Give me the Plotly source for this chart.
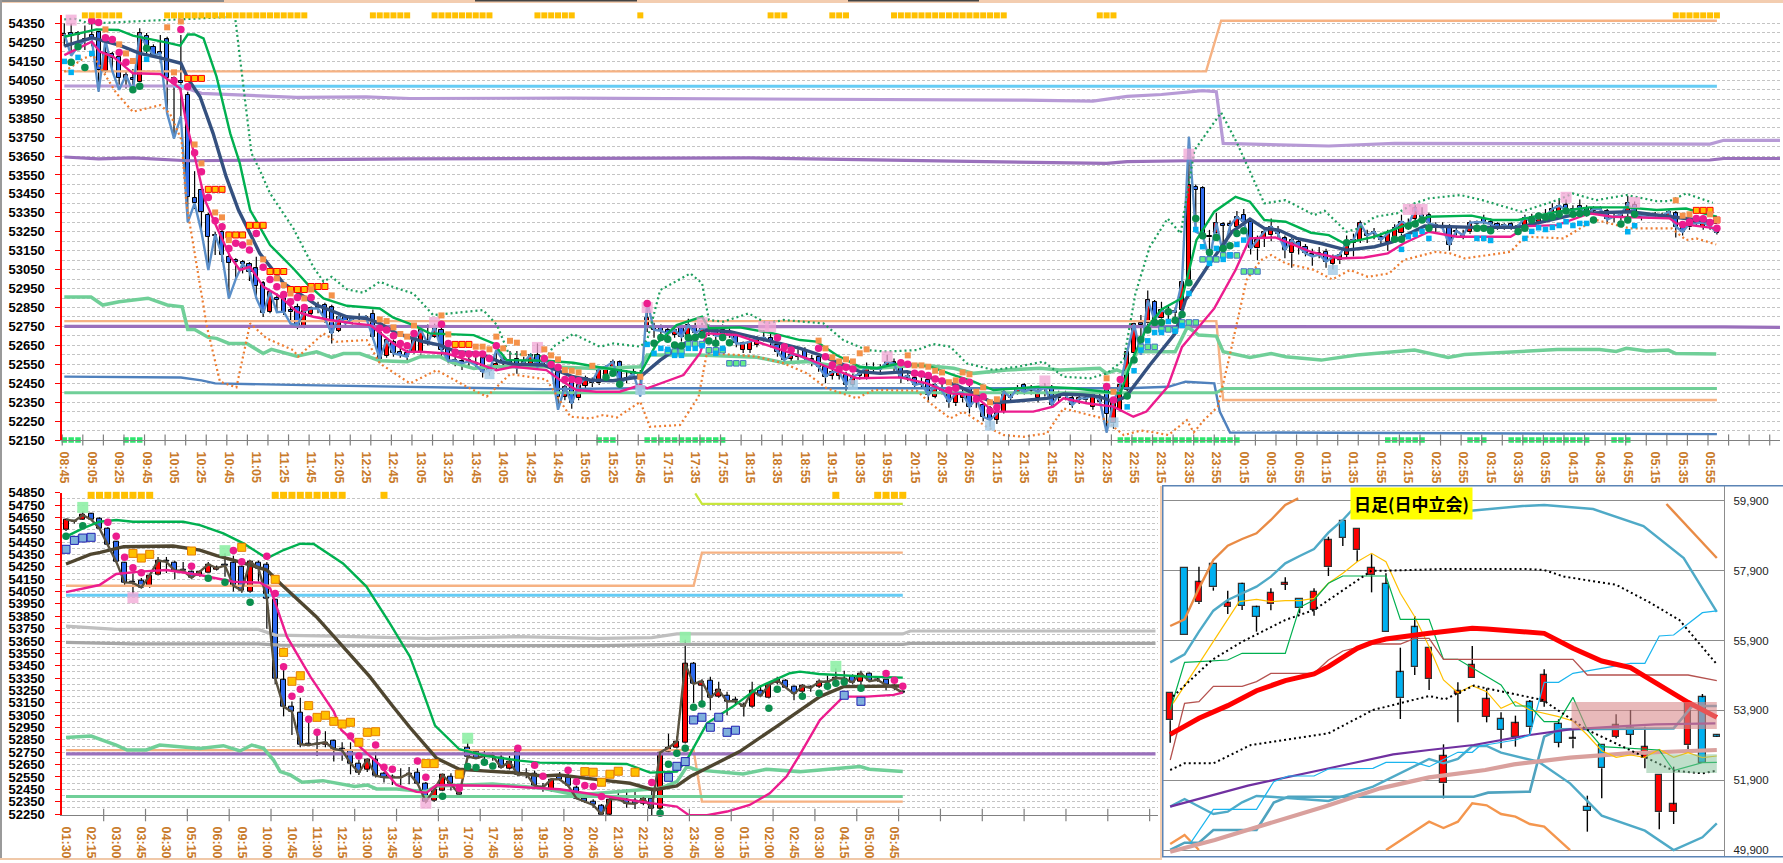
import plotly.graph_objects as go

W, H = 1783, 863

# ---------- TOP PANEL (5 min) ----------
top_labels = ["08:45","09:05","09:25","09:45","10:05","10:25","10:45","11:05","11:25","11:45","12:05","12:25","12:45","13:05","13:25","13:45","14:05","14:25","14:45","15:05","15:25","15:45",
"17:15","17:35","17:55","18:15","18:35","18:55","19:15","19:35","19:55","20:15","20:35","20:55","21:15","21:35","21:55","22:15","22:35","22:55","23:15","23:35","23:55",
"00:15","00:35","00:55","01:15","01:35","01:55","02:15","02:35","02:55","03:15","03:35","03:55","04:15","04:35","04:55","05:15","05:35","05:55"]
top_open = [54285,54300,54300,54270,54290,54303,54100,54190,54175,54055,
54060,54043,54285,54228,54200,54266,54060,54045,53975,53430,
53470,53338,53225,53250,53118,53100,53090,53078,53056,52977,
52828,52900,52898,52835,52850,52748,52815,52850,52863,52850,
52727,52798,52780,52790,52790,52818,52713,52593,52669,52615,
52610,52616,52607,52680,52695,52731,52630,52575,52565,52570,
52555,52581,52525,52530,52565,52565,52580,52555,52550,52599,
52560,52545,52510,52378,52467,52370,52435,52450,52449,52475,
52537,52560,52465,52510,52500,52740,52748,52745,52730,52705,
52740,52705,52748,52720,52720,52730,52730,52720,52705,52625,
52625,52652,52680,52687,52652,52625,52580,52590,52625,52580,
52590,52537,52490,52490,52493,52440,52490,52476,52520,52520,
52546,52560,52546,52480,52476,52440,52467,52379,52420,52405,
52344,52370,52423,52360,52335,52317,52255,52300,52370,52405,
52440,52410,52370,52420,52423,52370,52380,52370,52360,52360,
52326,52350,52414,52238,52310,52414,52607,52766,52766,52880,
52792,52830,52820,52836,52977,53488,53479,53230,53241,53290,
53290,53276,53338,53303,53162,53215,53232,53250,53215,53136,
53197,53171,53130,53140,53144,53079,53100,53127,53190,53206,
53240,53240,53224,53197,53224,53241,53290,53320,53340,53338,
53280,53280,53276,53250,53220,53247,53290,53320,53300,53290,
53280,53290,53270,53270,53330,53300,53320,53320,53356,53394,
53370,53385,53373,53360,53365,53359,53325,53330,53347,53394,
53330,53335,53340,53330,53326,53347,53277,53273,53300,53276,
53285,53259]
top_high = [54350,54350,54310,54340,54350,54310,54263,54200,54190,54100,
54110,54325,54300,54240,54290,54280,54070,54290,53990,53570,
53490,53350,53250,53260,53130,53110,53100,53090,53118,52990,
52940,52925,52905,52860,52870,52845,52855,52880,52875,52865,
52815,52810,52800,52820,52810,52840,52720,52690,52680,52640,
52625,52690,52745,52760,52765,52745,52640,52600,52590,52600,
52590,52590,52545,52625,52590,52620,52620,52590,52610,52660,
52590,52570,52520,52440,52480,52450,52490,52480,52540,52545,
52575,52570,52520,52530,52520,52880,52770,52760,52750,52750,
52750,52790,52770,52770,52760,52740,52760,52740,52720,52670,
52680,52700,52730,52720,52665,52640,52620,52630,52640,52600,
52610,52550,52530,52530,52510,52500,52520,52560,52560,52550,
52600,52580,52560,52510,52490,52480,52480,52450,52450,52420,
52410,52420,52440,52385,52345,52330,52300,52420,52400,52440,
52450,52440,52420,52450,52440,52410,52410,52385,52390,52390,
52400,52400,52430,52360,52470,52620,52770,52810,52940,52890,
52880,52860,52850,52990,53752,53500,53490,53260,53350,53300,
53310,53360,53370,53320,53230,53265,53320,53280,53230,53220,
53210,53185,53160,53170,53160,53130,53140,53230,53240,53310,
53260,53270,53245,53260,53290,53340,53320,53390,53380,53350,
53300,53300,53290,53270,53260,53310,53310,53340,53320,53300,
53295,53300,53290,53340,53345,53350,53370,53400,53420,53420,
53390,53420,53390,53385,53385,53370,53350,53350,53440,53410,
53345,53345,53355,53350,53370,53360,53290,53310,53320,53310,
53300,53280]
top_low = [54230,54180,54230,54210,54230,53990,54090,54100,54000,54007,
53990,54040,54180,54180,54140,53875,53743,53860,53300,53370,
53250,53048,53127,53090,52898,53000,53030,52990,52900,52800,
52820,52825,52810,52765,52735,52740,52810,52820,52770,52660,
52720,52750,52760,52770,52775,52680,52555,52585,52590,52585,
52570,52605,52600,52650,52690,52590,52555,52540,52520,52540,
52530,52480,52490,52520,52540,52540,52500,52530,52530,52520,
52540,52530,52310,52360,52315,52360,52425,52430,52440,52465,
52530,52430,52450,52490,52380,52720,52690,52690,52690,52690,
52670,52690,52700,52700,52700,52670,52690,52690,52640,52610,
52610,52640,52670,52640,52590,52550,52560,52570,52560,52540,
52510,52450,52470,52470,52410,52420,52470,52470,52500,52500,
52530,52510,52450,52460,52420,52420,52350,52370,52390,52320,
52330,52350,52290,52320,52250,52220,52235,52290,52350,52390,
52390,52390,52350,52380,52320,52350,52360,52320,52340,52340,
52310,52340,52190,52210,52300,52405,52590,52600,52750,52770,
52770,52780,52790,52820,52970,53250,53220,53100,53230,53130,
53250,53260,53280,53130,53100,53170,53200,53220,53110,53060,
53130,53120,53070,53110,53060,53050,53080,53110,53120,53190,
53190,53210,53180,53150,53210,53230,53260,53310,53310,53280,
53240,53260,53150,53230,53210,53240,53270,53290,53280,53260,
53260,53260,53250,53255,53290,53290,53300,53310,53340,53350,
53340,53360,53330,53340,53340,53290,53300,53310,53330,53330,
53310,53320,53320,53320,53320,53220,53230,53260,53280,53260,
53260,53235]
top_close = [54295,54290,54290,54260,54270,54104,54192,54170,54064,54078,
54050,54298,54230,54183,54190,54060,54045,54035,53435,53400,
53356,53224,53235,53127,53086,53090,53080,53040,52965,52819,
52933,52890,52828,52825,52757,52831,52845,52845,52790,52713,
52801,52766,52790,52800,52800,52695,52580,52678,52607,52600,
52590,52678,52731,52660,52748,52625,52569,52570,52555,52565,
52545,52510,52515,52550,52570,52555,52530,52560,52600,52537,
52570,52540,52378,52431,52343,52440,52475,52460,52528,52537,
52563,52449,52475,52500,52480,52796,52731,52727,52710,52731,
52695,52757,52713,52740,52735,52700,52700,52710,52660,52660,
52670,52687,52690,52670,52617,52572,52600,52600,52581,52570,
52537,52485,52510,52510,52440,52485,52500,52537,52530,52525,
52564,52550,52476,52490,52440,52450,52388,52440,52410,52352,
52396,52400,52326,52370,52273,52255,52291,52405,52375,52423,
52405,52420,52405,52430,52335,52388,52390,52335,52370,52370,
52388,52360,52290,52352,52440,52616,52762,52760,52889,52783,
52836,52820,52830,52986,53497,53470,53232,53220,53298,53280,
53280,53329,53303,53162,53206,53250,53276,53240,53153,53206,
53171,53136,53120,53130,53092,53118,53127,53197,53206,53294,
53230,53250,53206,53241,53268,53303,53285,53373,53330,53294,
53285,53270,53180,53255,53230,53298,53300,53300,53290,53270,
53285,53270,53280,53325,53300,53330,53330,53370,53388,53365,
53365,53375,53347,53370,53370,53315,53330,53340,53400,53347,
53335,53330,53335,53335,53356,53277,53250,53294,53295,53298,
53280,53245]

navy_i = [0,4,8,11,14,17,18,19.8,21.7,23.6,25.4,26.1,28.5,32,36.8,41.2,44.1,46,48.5,52.4,54.8,57.2,60.6,63.5,65.5,69.9,71.8,74.2,76.7,80,84,86.9,90,93.7,97.1,100,103.9,107.3,110.2,113.1,116,119,122.9,125.8,130.1,132.6,135.5,138.9,143.3,145.7,148.6,151,153,154.8,158.3,162,163.5,166.7,170.3,172.9,175,177.1,179.7,183.3,187,191.1,193.7,198.4,205.7,212,217.7,221,228.3,234.6,238,241]
navy_v = [54231,54275,54236,54192,54169,54140,54060,53963,53770,53541,53365,53312,53136,52977,52863,52801,52792,52766,52713,52669,52651,52616,52607,52563,52551,52546,52519,52484,52467,52463,52484,52572,52650,52731,52722,52699,52664,52634,52599,52555,52511,52502,52511,52485,52440,52396,52347,52356,52370,52393,52388,52379,52352,52378,52546,52713,52889,53065,53250,53317,53268,53259,53215,53188,53153,53171,53197,53280,53273,53273,53320,53347,53356,53329,53310,53300]
grn_i = [0,2,4.7,7.9,10,15,16.9,18,19,20.3,22.2,24.2,25.6,27.1,30,33.4,35.6,37.8,41.2,46,48,50.9,53.3,59.7,62.6,64.5,70.3,74.2,77.6,84,86.4,89.3,93,94,98.5,103.4,107.3,109.7,112.6,116,118.5,121.9,126.3,129.7,132.6,135.5,142.3,147.2,151,154,155.7,157.8,160,163,163.8,165.1,167.7,170.8,172.9,175,178.1,181.8,184.4,186.7,191.1,198.9,205.2,208.3,212,217.7,222.4,227.8,232.2,236.5,240,241]
grn_v = [54280,54298,54319,54316,54286,54249,54233,54292,54292,54271,54069,53770,53611,53365,53180,53056,52968,52898,52859,52845,52796,52757,52713,52704,52660,52572,52569,52558,52537,52502,52660,52757,52801,52740,52745,52713,52678,52670,52599,52537,52529,52555,52537,52493,52458,52414,52432,52423,52410,52396,52572,52739,52840,52900,53012,53206,53356,53435,53409,53312,53303,53245,53232,53188,53224,53329,53335,53312,53312,53356,53379,53379,53365,53373,53338,53330]
mag_i = [0,4,5.2,7.1,10,14,16.9,17.8,18.8,20.5,22.2,24.2,25.6,27.1,29,31.5,33.9,36.3,38.8,42.1,44.6,48,50,51.9,55.8,59.7,63,65.5,70.3,72.3,74.7,77.6,81,84,85,88.3,90.3,92.7,93.7,98,101,104.9,108.3,111.2,115.6,121.9,125.8,129.2,132.6,135.5,141.3,144.2,145.7,149.1,153,155.9,157.8,160.9,163,167.7,170.8,172.9,176.6,181.8,186,189.6,193,195.3,199,203.1,210.9,213.5,217.7,222.4,225.8,234.1,235.1,240.9]
mag_v = [54183,54254,54201,54175,54087,54083,54007,53822,53682,53418,53277,53118,53048,53065,52960,52907,52828,52801,52784,52766,52757,52660,52616,52616,52607,52563,52519,52537,52519,52467,52414,52405,52405,52440,52423,52467,52493,52608,52713,52705,52669,52625,52581,52537,52476,52481,52449,52396,52388,52300,52300,52326,52370,52344,52326,52273,52300,52431,52642,52845,53048,53215,53220,53144,53109,53114,53136,53188,53250,53224,53224,53280,53285,53347,53329,53321,53294,53268]
gdot_i = [0,1.5,3.7,24.9,26.3,27.3,28.5,30,33.4,36.3,37.8,39,41.2,43.6,46,48.5,50.9,53.8,58.7,61.1,63.1,64.8,67.4,70.4,71.3,74.2,78.1,80.1,84,85,86.9,91.3,93,94,96.1,99.8,102.4,104.9,110.7,113.6,117,120,124.3,126.7,129.2,131.6,135.5,139,142.8,145.7,149.6,152,154.5,156.2,158.3,160.9,162.8,164.8,168.7,171,175,178.1,182.3,183.8,187,188.8,191.1,194.3,196.9,199,203.6,206.8,212.5,217.7,220,223.4,227.8,232.2,234.1,236.5,240.4]
gdot_v = [54372,54375,54350,54386,53963,53664,53576,53453,53268,53065,52986,53012,52946,52928,52986,52951,52924,52810,52828,52836,52757,52607,52599,52590,52643,52710,52643,52660,52643,52678,52942,53030,52978,52784,52775,52819,52766,52784,52766,52678,52625,52617,52625,52657,52643,52555,52520,52537,52564,52484,52476,52502,52572,52924,53171,53320,53241,53680,53880,53720,53400,53417,53338,53361,53250,53268,53329,53347,53400,53426,53444,53417,53356,53417,53452,53417,53444,53412,53412,53452,53403]
odot_i = [0,2.8,4.2,7.6,10,14,15.4,17.1,17.8,19.1,20.8,22.7,25.1,27.1,29.5,33.4,34.1,37.8,39.7,44.1,46,50.4,54.3,58.7,61.6,65,70.3,73.8,76.7,78.6,80.6,84,85.4,89.8,92.5,93.7,98,101,104.9,108.3,111.2,115.6,118,124.3,126.3,129.2,131.1,134.5,137,139.9,143.3,145.7,148.6,151.5,154.5,157,159,161,163.7,164.7,166.2,168.2,169.8,172.4,174.5,176,178.1,182.3,184.9,187.5,190.1,193.2,195.3,200,202.1,204.2,210.9,213,218.6,221.5,223.4,228.3,234.4,236.5,238,240.9]
odot_v = [54095,54166,54183,53981,53884,53919,53875,53734,53400,53118,52748,52458,52428,52766,52687,52625,52590,52713,52669,52678,52555,52449,52519,52431,52379,52498,52470,52273,52264,52282,52269,52352,52220,52229,52379,52608,52600,52590,52555,52502,52423,52370,52414,52411,52344,52264,52300,52220,52176,52167,52185,52317,52291,52264,52176,52200,52190,52176,52255,52190,52255,52325,52572,52995,53100,53127,53083,53048,52998,53048,53012,53030,53100,53144,53136,53109,53144,53224,53215,53277,53312,53268,53268,53206,53215,53183]

lpur_i = [0,16.9,20,24.6,33.9,44,50.4,73.6,85,110,140,150,155,160,166,168,169,184.4,194,240,242,250.2]
lpur_v = [54020,54020,53981,53974,53960,53963,53954,53956,53955,53950,53945,53940,53965,53975,53995,53990,53717,53703,53717,53713,53733,53733]
dpur_i = [0,5,10,18,50,100,152,155,163.5,240,242,250.2]
dpur_v = [53645,53635,53640,53625,53635,53640,53611,53620,53625,53629,53637,53637]
mpur_i = [0,100,242,250.2]
mpur_v = [52750,52750,52748,52745]
sky_i = [16,241]
sky_v = [54018,54018]
or1_i = [0,166.5,168.7,241]
or1_v = [54097,54097,54365,54365]
or2_i = [0,168,169,241]
or2_v = [52778,52778,52361,52361]
blu_i = [0,17,20,22,35,50,70,84,155,161,163.5,167.7,168.5,170,241]
blu_v = [52485,52480,52465,52449,52440,52431,52419,52423,52423,52431,52458,52449,52300,52190,52181]
ghz_i = [0,168,169,241]
ghz_v = [52400,52400,52422,52422]
pgr_i = [0,3.9,5.6,8,12.2,15,17.2,18,19,21,22.2,24,26.6,29,30.2,33.9,36.8,39,40.7,43.1,46,50,51.9,54.8,56.3,59.7,62,65.5,70.3,77.6,84,85,92.5,101,104.9,108.3,113.1,118.5,124.8,129.7,132.6,137.4,142.3,145.2,151,152,153.5,154.7,156.5,162,163.8,165.4,168,169,172.9,176,178.1,183.3,188.5,196.9,201.8,204.2,217.7,223.9,226.3,227.8,230.7,233.9,235,240.9]
pgr_v = [52905,52905,52863,52880,52899,52863,52854,52734,52734,52692,52687,52660,52660,52607,52629,52593,52616,52586,52607,52607,52569,52563,52590,52590,52563,52528,52537,52537,52537,52528,52537,52599,52599,52587,52558,52564,52537,52529,52546,52529,52502,52520,52529,52520,52529,52502,52520,52502,52616,52616,52748,52704,52699,52616,52586,52607,52590,52572,52599,52625,52586,52602,52628,52628,52618,52634,52620,52625,52607,52604]

t_pink_i = [4,5,6,7,8,9,16,17,18,19,20,21,22,23,24,25,26,27,28,29,30,31,32,33,34,35,36,46,47,48,49,50,51,55,56,57,58,59,60,61,62,63,70,71,72,73,74,75,85,104,105,106,110,111,112,113,114,115,122,123,124,125,126,127,128,129,130,131,132,133,134,135,136,152,153,154,236,237,238,239,240,241]
t_pink_v = [54365,54356,54275,54266,54197,54145,54048,54319,54016,53667,53567,53431,53308,53277,53162,53189,53180,53153,53241,53062,52998,52960,52919,52880,52903,52850,52903,52740,52731,52701,52660,52648,52713,52761,52660,52615,52604,52604,52604,52604,52581,52648,52581,52549,52534,52470,52470,52463,52871,52690,52643,52625,52634,52590,52546,52525,52534,52525,52558,52550,52502,52499,52491,52472,52462,52414,52423,52463,52455,52366,52379,52303,52322,52432,52361,52470,53289,53301,53320,53319,53299,53268]
t_dgrn_i = [1,2,3,10,11,12,79,80,81,86,87,88,89,90,91,92,93,94,95,96,97,155,156,157,158,159,160,161,162,163,164,165,166,167,168,169,170,171,172,187,194,195,196,197,198,199,206,207,208,212,213,214,215,216,217,218,219,220,221,222,223,227,228,229]
t_dgrn_v = [54145,54227,54118,54000,54018,54219,52481,52502,52444,52661,52691,52682,52652,52648,52691,52691,52705,52673,52661,52691,52664,52382,52572,52681,52731,52771,52771,52827,52783,52813,52981,53320,53229,53141,53220,53162,53176,53241,53255,53192,53211,53211,53280,53291,53312,53268,53268,53268,53255,53252,53268,53312,53333,53326,53329,53342,53359,53342,53347,53351,53312,53291,53312,53342]
t_or_i = [6,8,9,10,15,16,17,19,20,22,23,24,27,29,31,32,33,35,36,39,46,47,48,49,50,51,55,56,60,61,62,63,64,65,66,67,70,71,72,73,74,75,77,84,110,111,112,113,114,115,116,117,123,124,125,126,127,128,129,130,131,132,133,134,135,136,152,153,235,236,237,240,241]
t_or_v = [54319,54240,54192,54152,54330,54092,54361,53711,53611,53352,53326,53206,53194,53104,53004,52968,52924,52898,52945,52914,52787,52778,52745,52710,52696,52755,52808,52708,52643,52643,52629,52696,52634,52674,52664,52608,52629,52597,52576,52519,52516,52507,52542,52484,52675,52634,52587,52565,52576,52565,52608,52629,52597,52544,52544,52537,52516,52507,52455,52465,52507,52497,52405,52428,52349,52365,52476,52405,53416,53335,53342,53342,53312]
t_cy_i = [0,1,2,4,12,85,86,87,88,89,90,91,92,93,95,96,155,156,157,158,159,160,161,162,163,164,165,166,167,168,169,170,171,172,195,196,197,198,199,206,207,208,213,214,215,216,217,218,219,220,221,222,228,229]
t_cy_v = [54150,54092,54171,54192,54161,52655,52608,52634,52629,52597,52597,52634,52634,52648,52608,52634,52325,52516,52625,52674,52718,52718,52776,52725,52755,52924,53262,53171,53083,53162,53104,53127,53183,53206,53157,53224,53236,53252,53215,53215,53215,53204,53215,53252,53271,53262,53273,53283,53303,53283,53294,53294,53250,53282]
t_gbox_i = [157,158,159,160,161,162,163,164,165,166,167,168,169,170,171,172,173,174,88,89,90,91,92,93,94,95,96,97,98,99]
t_gbox_v = [52642,52642,52642,52734,52734,52734,52771,52771,52771,53104,53104,53104,53125,53125,53125,53040,53040,53040,52617,52617,52617,52657,52657,52657,52624,52624,52624,52555,52555,52555]
t_rbox_i = [18,19,20,21,22,23,24,25,26,27,28,29,30,31,32,33,34,35,36,37,38,57,58,59,238,239,240,241]
t_rbox_v = [54060,54060,54060,53474,53474,53474,53233,53233,53233,53284,53284,53284,53040,53040,53040,52945,52945,52945,52961,52961,52961,52655,52655,52655,53363,53363,53363,53312]
t_pbig_i = [1,54,69,85,93,102,103,120,143,164,196,197,198,219,229]
t_pbig_v = [54368,52771,52639,52850,52770,52749,52749,52590,52462,53660,53368,53368,53368,53432,53405]
t_bbig_i = [62,84,115,135,153,185]
t_bbig_v = [52498,52414,52440,52226,52243,53048]
t_toprow_i = [3,4,5,6,7,8,15,16,17,18,19,20,21,22,23,24,25,26,27,28,29,30,31,32,33,34,35,45,46,47,48,49,50,54,55,56,57,58,59,60,61,62,69,70,71,72,73,74,84,103,104,105,112,113,114,121,122,123,124,125,126,127,128,129,130,131,132,133,134,135,136,137,151,152,153,235,236,237,238,239,240,241]
t_toprow_v = [54393]*len(t_toprow_i)
t_botrow_i = [0,1,2,9,10,11,78,79,80,85,86,87,88,89,90,91,92,93,94,95,96,154,155,156,157,158,159,160,161,162,163,164,165,166,167,168,169,170,171,193,194,195,196,197,198,205,206,207,211,212,213,214,215,216,217,218,219,220,221,222,226,227,228]
t_botrow_v = [52150]*len(t_botrow_i)

# ---------- BOTTOM-LEFT PANEL (15 min) ----------
mid_labels = ["01:30","02:15","03:00","03:45","04:30","05:15","06:00","09:15","10:00","10:45","11:30","12:15","13:00","13:45","14:30","15:15",
"17:00","17:45","18:30","19:15","20:00","20:45","21:30","22:15","23:00","23:45","00:30","01:15","02:00","02:45","03:30","04:15","05:00","05:45"]
mid_open = [54548,54612,54634,54677,54640,54561,54454,54284,54130,54138,54095,54185,54300,54284,54230,54211,54180,54203,54230,54270,
54284,54251,54049,54286,54265,53982,53334,53119,53073,52822,52810,52810,52841,52775,52763,52660,52612,52692,52579,52550,
52540,52566,52587,52498,52358,52440,52553,52420,52790,52755,52730,52725,52709,52620,52755,52580,52580,52470,52445,52550,
52547,52464,52377,52350,52318,52248,52390,52369,52358,52337,52377,52297,52755,52787,52828,53470,53289,53329,53200,53208,
53175,53133,53120,53246,53192,53313,53329,53281,53240,53280,53281,53315,53345,53340,53362,53321,53389,53340,53340,53290,53240]
mid_high = [54640,54625,54700,54685,54650,54570,54460,54290,54197,54160,54190,54330,54330,54300,54290,54220,54220,54290,54260,54360,
54340,54260,54300,54300,54290,53990,53450,53160,53190,52990,52900,52920,52850,52830,52830,52690,52700,52750,52590,52570,
52620,52630,52620,52510,52450,52570,52580,52440,52830,52760,52760,52750,52750,52720,52790,52620,52600,52500,52540,52590,
52590,52480,52400,52370,52330,52380,52440,52450,52440,52390,52440,52750,52900,52880,53660,53480,53340,53360,53320,53240,
53200,53150,53320,53280,53300,53360,53340,53290,53300,53290,53340,53370,53430,53410,53380,53410,53395,53360,53345,53300,53250]
mid_low = [54540,54600,54630,54630,54555,54425,54285,54090,54035,54080,54080,54180,54200,54150,54200,54150,54170,54200,54220,54170,
54050,54040,54040,54130,53750,53300,53040,52890,52790,52800,52720,52790,52674,52680,52571,52565,52590,52545,52504,52485,
52485,52490,52485,52340,52350,52435,52440,52400,52700,52695,52690,52680,52620,52610,52560,52540,52470,52430,52430,52520,
52470,52370,52340,52300,52242,52242,52360,52300,52290,52320,52242,52242,52750,52780,52820,53150,53140,53090,53190,53050,
53140,53040,53110,53200,53185,53300,53270,53170,53200,53240,53270,53290,53330,53320,53300,53280,53321,53320,53250,53255,53225]
mid_close = [54634,54620,54669,54634,54561,54432,54292,54124,54120,54084,54181,54300,54290,54219,54220,54162,54211,54270,54240,54260,
54098,54057,54295,54238,53995,53348,53119,53078,52814,52808,52820,52830,52776,52765,52660,52585,52692,52560,52547,52545,
52545,52579,52498,52350,52445,52566,52493,52410,52714,52701,52720,52720,52628,52674,52566,52575,52480,52465,52531,52530,
52480,52377,52350,52323,52248,52369,52370,52337,52332,52377,52297,52747,52787,52836,53464,53303,53324,53192,53254,53160,
53165,53120,53248,53205,53294,53335,53275,53221,53286,53270,53321,53320,53350,53345,53316,53389,53325,53335,53294,53270,53230]

brown_i = [0,2.9,4.1,6.9,12.8,16,18,20,24,26,29.9,33.1,36.3,39.1,41.1,44.3,47,49.9,53.4,57,59,63.8,67.4,70.2,73,74.6,80.5,84.9,87.7,90.1,92.9,100]
brown_v = [54273,54351,54367,54413,54419,54386,54340,54305,54224,54090,53847,53604,53361,53118,52950,52701,52612,52599,52585,52558,52566,52526,52499,52445,52477,52553,52755,52957,53092,53200,53281,53286]
mgrn_i = [0,2,4,6,8,14,16,18.8,21.2,24,26,28,29.6,33.1,35.9,38.7,41.1,42.3,44.1,47,50.2,54.2,56.6,67,69.8,73,74.2,76.6,79.7,82.9,86.5,87.7,90,91.7,95.7,100]
mgrn_v = [54494,54561,54615,54629,54615,54615,54588,54521,54440,54319,54386,54437,54435,54278,54090,53793,53523,53307,52965,52774,52720,52682,52666,52655,52585,52593,52688,52984,53119,53281,53389,53402,53383,53375,53362,53354]
mmag_i = [0,2,4,6,8.8,12,16,20,23.2,24.4,26.4,29.2,32,32.9,35.5,37.5,39.5,41.9,43.1,44.3,51.9,59,62.2,65.8,68.6,73,74.4,76.6,79,81.7,84.1,86.1,87.7,90.1,92.9,95.7,98.9,100]
mmag_v = [54046,54076,54103,54192,54211,54224,54184,54130,54122,54076,53685,53361,53078,52930,52768,52647,52485,52429,52423,52485,52477,52450,52418,52377,52350,52310,52243,52240,52270,52323,52418,52553,52730,53011,53200,53200,53214,53232]
msky_i = [0,100]
msky_v = [54020,54020]
mor1_i = [0,75,76,100]
mor1_v = [54097,54097,54365,54365]
mor2_i = [0,75,76,100]
mor2_v = [52767,52767,52350,52350]
mlime_i = [75.2,76,100]
mlime_v = [54845,54759,54759]
mg1_i = [0,6,23,25,32,43,53.8,63.8,70,73,100,100.9,130.2]
mg1_v = [53771,53744,53744,53698,53690,53671,53685,53672,53677,53707,53707,53731,53731]
mg2_i = [0,8,23,25.6,53.8,63.8,73,100,100.9,130.2]
mg2_v = [53639,53626,53626,53617,53612,53612,53623,53623,53631,53631]
mpur2_i = [0,130.2]
mpur2_v = [52736,52736]
mghz_i = [0,100]
mghz_v = [52392,52392]
mpg_i = [0,3,6,7.3,9.6,11.2,16,18.8,20.8,22.2,23.6,24.8,25.6,26.8,28.2,30.7,34.5,36,37.1,39.5,43,44.3,51,57,61,65.8,71,73,74.2,75.4,80.9,83.7,87.7,92.5,94.9,96,100]
mpg_v = [52870,52881,52808,52768,52768,52808,52781,52803,52760,52808,52781,52687,52593,52566,52507,52520,52472,52485,52453,52453,52431,52477,52493,52458,52404,52431,52458,52512,52634,52607,52574,52612,52593,52620,52634,52612,52593]

m_pink_i = [5,6,7,8,9,15,20,21,24,25,26,27,28,29,30,34,35,37,38,39,42,43,47,54,56,57,60,61,62,63,64,70,98,99,100]
m_pink_v = [54610,54497,54327,54243,54203,54254,54383,54292,54335,54035,53442,53202,53259,53016,52911,52881,52720,52809,52628,52612,52679,52547,52458,52782,52644,52555,52604,52512,52480,52472,52391,52504,53386,53332,53284]
m_dgrn_i = [0,2,17,19,22,45,48,49,50,51,71,72,73,74,75,76,84,85,88,90,91,92,93,95]
m_dgrn_v = [54497,54583,54157,54125,53963,52394,52634,52626,52669,52639,52256,52652,52741,52782,53114,53141,53105,53259,53203,53227,53284,53308,53319,53267]
m_obox_i = [8,9,10,15,21,25,26,27,28,29,30,31,32,33,34,35,36,37,43,44,47,62,63,64,65,66,68]
m_obox_v = [54359,54321,54351,54378,54408,54149,53558,53324,53369,53127,53032,53049,53000,52978,52992,52830,52911,52916,52658,52658,52572,52593,52588,52507,52572,52596,52588]
m_bbox_i = [0,1,2,3,72,73,74,75,76,77,78,79,80,93,95]
m_bbox_v = [54392,54464,54483,54489,52547,52636,52674,53011,53033,52952,53033,52911,52928,53211,53162]
m_gbig_i = [2,19,48,74,92]
m_gbig_v = [54731,54381,52863,53680,53445]
m_pbig_i = [8,43]
m_pbig_v = [54000,52337]
m_toprow_i = [3,4,5,6,7,8,9,10,25,26,27,28,29,30,31,32,33,38,92,97,98,99,100]
m_toprow_v = [54829]*len(m_toprow_i)

# ---------- DAILY PANEL ----------
day_open = [53615,57970,56996,58085,56872,57521,56853,56939,57500,57082,56767,57999,59317,58486,57770,57521,54991,56280,54790,51810,54379,54819,53720,53644,53128,54131,54150,53510,53110,51142,52918,53148,53386,52527,50980,50999,52899,54274,53190]
day_high = [54389,57970,58018,58085,57330,57560,56900,57397,57712,57082,57400,58877,59317,59088,58371,57827,55697,56605,55697,52928,54704,55745,54530,53845,53749,54200,55077,53644,53386,51457,52918,53787,53911,53434,52040,52288,54102,54370,53200]
day_low = [52976,56060,56948,57330,56662,56776,56156,56770,57350,56680,56614,57751,58610,58161,57282,56137,53654,54914,54485,51380,53558,54819,53558,52813,52861,53195,54007,52842,52813,50426,51380,53100,52909,52240,50493,50645,52785,52403,53140]
day_close = [54389,56060,57569,57426,56968,56891,56586,57254,57540,56824,57302,58772,58839,59088,57970,56137,54246,55134,55697,52594,54446,55201,54217,53339,53529,53415,54905,52976,53070,51027,52240,53472,53205,52861,52040,51209,54102,52403,53150]

d_red_i = [0,2,4,6,8,10,11,13,14,15,18,20,21,22,25,26,28,30,32,34,36,38]
d_red_v = [53214,53673,54036,54465,54752,54943,55153,55678,55841,55946,56108,56184,56251,56232,56156,56108,55678,55315,55124,54628,54131,53701]
d_orH_i = [0,1,2,3,4,5,6,7,8,8.9,None,34.5,36.5,38]
d_orH_v = [56318,56509,57397,58209,58620,58811,58973,59355,59785,59976,None,59813,58925,58266]
d_tealU_i = [0,1,2,3,4,5,6,7,8,9,10,11,12,12.6,20.9,24.5,26,29.4,32.9,35.7,38]
d_tealU_v = [55277,55506,56156,56757,57063,57254,57445,57731,58114,58324,58524,58992,59355,59622,59622,59756,59785,59670,59180,58266,56720]
d_dot1_i = [0.2,2.9,5,8,10,12,14,15,19,24.8,26,27.4,31,33.3,35.4,38]
d_dot1_v = [54300,55344,55869,56490,56777,57350,57903,57903,57951,57951,57922,57731,57500,57000,56490,55220]
d_dot2_i = [0,1,3,5.6,11,14.1,18,19.1,21.1,25.9,29,32,35,37,38]
d_dot2_v = [52192,52383,52383,52909,53243,53912,54313,54217,54609,54198,53339,52766,52173,52097,52173]
d_yel_i = [0.2,4.8,6,7,8,9,10,11,12,13,14,15,16,17,18,19,20,21,22,23,24,25,27,28,29,30,31,32,33,34,35,36,37,38]
d_yel_v = [54103,57015,57082,57015,57044,57044,57111,57541,57827,58161,58400,58161,57254,56585,55726,54771,54408,54609,54437,53959,54150,53912,53720,53596,53195,52746,52555,52622,52555,52785,52555,52690,52546,52594]
d_grn_i = [0,1,2,4,5,8,9,10,11,12,15,16,18,19,20,22,23,24,25,26,27,28,29,30,34,35,37,38]
d_grn_v = [53912,55277,55296,55344,55535,55535,56853,57063,57541,57751,57751,56509,56509,55363,55363,54886,54628,54026,54026,53577,53577,54274,53339,52861,52766,52173,52403,52412]
d_brn_i = [0,1,2,3,5,6,7,10,11,12,14,16,17,18,19,28,29,36,38]
d_brn_v = [52479,54103,54150,54590,54590,54723,54962,54962,55344,55602,55802,55802,55964,55964,55363,55363,54914,54914,54752]
d_pur_i = [0,5.4,12.1,15.5,18,21.1,25,27.8,30.9,33.7,37.9]
d_pur_v = [51142,51744,52336,52641,52766,52909,53195,53358,53434,53501,53529]
d_pnk_i = [0,3.1,10.7,14.6,18,21.9,23.9,27.8,31.8,38]
d_pnk_v = [49852,50187,51142,51667,51982,52193,52355,52546,52670,52765]
d_lb_i = [1.4,3,6,7.2,8.2,10,11,14.1,15,17,18,20,21,21.5,24,25,26,27,28,32,33,34,35,36.3,37,38]
d_lb_v = [50092,51066,51066,51858,52020,52020,52221,52240,52412,52412,52288,52699,52699,52880,53052,53195,54704,54704,54962,55248,55248,56032,56060,56490,56700,56750]
d_tlA_i = [0,1,2,3,6,7.2,8.2,21.1,22.1,25,26,27.1,35,36.3,38]
d_tlA_v = [49900,50110,50110,50473,50473,51257,51428,51428,51543,51572,53148,53358,53386,54026,54026]
d_tlB_i = [0,1,3,4,5,6,7,11,14.1,18,19,20,21,22,23,25.6,27.8,30,33,35,37,38]
d_tlB_v = [51142,51362,50932,50999,51266,51447,51428,51304,51715,52508,52384,52508,52880,52880,52690,52431,51810,50884,50454,49900,50263,50665]
d_orL_i = [0,1,2,None,6,None,15,18,19,20,21,22,23,24,25,26,27.8]
d_orL_v = [50072,50330,49900,None,49967,None,49900,50712,50531,50712,51237,51180,50932,50856,50645,50569,49900]
d_rect_red = [27.9,38,53367,54141]
d_rect_grn = [33.1,38,52107,52641]
day_title = "日足(日中立会)"

# ---------- helpers ----------
fig = go.Figure()
DOT = "2px,3px"

def line(x, y, color, width, ax, dash="solid", shape="linear"):
    fig.add_trace(go.Scatter(x=x, y=y, mode="lines", line=dict(color=color, width=width, dash=dash, shape=shape),
                             xaxis="x"+ax, yaxis="y"+ax, hoverinfo="skip", showlegend=False))

def dots(x, y, color, size, ax, symbol="square", lc=None, lw=0, opacity=1.0):
    fig.add_trace(go.Scatter(x=x, y=y, mode="markers",
                             marker=dict(color=color, size=size, symbol=symbol, opacity=opacity,
                                         line=dict(color=lc or color, width=lw)),
                             cliponaxis=False, xaxis="x"+ax, yaxis="y"+ax, hoverinfo="skip", showlegend=False))

def candles(o, h, l, c, ax, width, red, down, lc, lw, wick_w):
    n = len(o)
    xs = list(range(n))
    tops = [max(a, b) for a, b in zip(o, c)]
    bots = [min(a, b) for a, b in zip(o, c)]
    cols = [red if cc >= oo else down for oo, cc in zip(o, c)]
    wx, wy = [], []
    for i in xs:
        wx += [i, i, None, i, i, None]
        wy += [h[i], tops[i], None, bots[i], l[i], None]
    fig.add_trace(go.Bar(x=xs, y=[max(t-b, 1) for t, b in zip(tops, bots)], base=bots, width=width,
                         marker=dict(color=cols, line=dict(color=lc, width=lw)),
                         xaxis="x"+ax, yaxis="y"+ax, hoverinfo="skip", showlegend=False))
    line(wx, wy, "#000000", wick_w, ax)

# --------- top panel traces
candles(top_open, top_high, top_low, top_close, "", 0.6, "#FF0000", "#2F6BEE", "#000000", 1, 1.2)
def fast_value(oo, hh, ll, cc):
    ext = hh if cc > oo else (ll if cc < oo else cc)
    return ext if abs(ext-cc) >= 60 else cc
top_fast = [fast_value(*r) for r in zip(top_open, top_high, top_low, top_close)]
line(lpur_i, lpur_v, "#B79AD6", 3.2, "")
line(dpur_i, dpur_v, "#9A70BC", 3.2, "")
line(mpur_i, mpur_v, "#9A70BC", 3.2, "")
line(sky_i, sky_v, "#66CCF5", 3, "")
line(or1_i, or1_v, "#F6B283", 2.4, "")
line(or2_i, or2_v, "#F6B283", 2.4, "")
line(blu_i, blu_v, "#4F81BD", 2.4, "")
line(ghz_i, ghz_v, "#70CF98", 3, "")
line(pgr_i, pgr_v, "#70CF98", 3.5, "")
line(list(range(len(top_fast))), top_fast, "#5B8FC9", 2.4, "")
line(navy_i, navy_v, "#34507F", 3.4, "")
line(grn_i, grn_v, "#00B050", 2.4, "")
line(mag_i, mag_v, "#EC1C8E", 2.4, "")
line(gdot_i, gdot_v, "#1E9E5E", 2.2, "", dash=DOT)
line(odot_i, odot_v, "#ED7D31", 2.2, "", dash=DOT)
dots(t_pbig_i, t_pbig_v, "#F2A6D4", 11, "", opacity=0.75)
dots(t_bbig_i, t_bbig_v, "#A8CCE8", 10, "", opacity=0.85)
dots(t_gbox_i, t_gbox_v, "#66EE88", 5.5, "", lc="#4472C4", lw=1)
dots(t_rbox_i, t_rbox_v, "#FFC000", 6, "", lc="#FF0000", lw=1)
dots(t_or_i, t_or_v, "#F4924A", 6, "")
dots(t_cy_i, t_cy_v, "#00B0F0", 5.5, "")
dots(t_dgrn_i, t_dgrn_v, "#0B8F4E", 7.5, "", symbol="circle")
dots(t_pink_i, t_pink_v, "#EC1C8E", 7.5, "", symbol="circle")
dots(t_toprow_i, t_toprow_v, "#FFC000", 6, "")
dots(t_botrow_i, t_botrow_v, "#2EE66E", 5.5, "")
dots([3*k-0.3 for k in range(84)], [52150]*84, "#808080", 8, "", symbol="line-ns", lc="#808080", lw=1.2)

# --------- middle panel traces
candles(mid_open, mid_high, mid_low, mid_close, "2", 0.6, "#FF0000", "#2F6BEE", "#000000", 1, 1.2)
line(msky_i, msky_v, "#66CCF5", 3, "2")
line(mor1_i, mor1_v, "#F6B283", 2.4, "2")
line(mor2_i, mor2_v, "#F6B283", 2.4, "2")
line(mlime_i, mlime_v, "#C8E63C", 2.2, "2")
line(mg1_i, mg1_v, "#BFBFBF", 3.2, "2")
line(mg2_i, mg2_v, "#A6A6A6", 3.2, "2")
line(mpur2_i, mpur2_v, "#9A70BC", 3.2, "2")
line(mghz_i, mghz_v, "#70CF98", 3, "2")
line(mpg_i, mpg_v, "#70CF98", 3.5, "2")
line(brown_i, brown_v, "#4F4630", 3.4, "2")
line(list(range(len(mid_close))), mid_close, "#5A5240", 2.4, "2")
line(mgrn_i, mgrn_v, "#00B050", 2.4, "2")
line(mmag_i, mmag_v, "#EC1C8E", 2.4, "2")
dots(m_gbig_i, m_gbig_v, "#8FEFA6", 11, "2", opacity=0.9)
dots(m_pbig_i, m_pbig_v, "#F2A6D4", 11, "2", opacity=0.75)
dots(m_obox_i, m_obox_v, "#FFC000", 8, "2", lc="#E67E00", lw=1)
dots(m_bbox_i, m_bbox_v, "#7FB0DC", 8, "2", lc="#1F1FB0", lw=1)
dots(m_dgrn_i, m_dgrn_v, "#0B8F4E", 7.5, "2", symbol="circle")
dots(m_pink_i, m_pink_v, "#EC1C8E", 7.5, "2", symbol="circle")
dots(m_toprow_i, m_toprow_v, "#FFC000", 7, "2")
dots([5*k-0.5 for k in range(27)], [52242]*27, "#808080", 9, "2", symbol="line-ns", lc="#808080", lw=1.2)

# --------- daily panel traces
candles(day_open, day_high, day_low, day_close, "3", 0.44, "#FF0000", "#00B0F0", "#333333", 1.2, 1.4)
line(d_orH_i, d_orH_v, "#E98B45", 2.4, "3")
line(d_orL_i, d_orL_v, "#F4964E", 2.4, "3")
line(d_tealU_i, d_tealU_v, "#4FAAC7", 2.4, "3")
line(d_tlA_i, d_tlA_v, "#4FA3BF", 2.6, "3")
line(d_tlB_i, d_tlB_v, "#4FAAC7", 2.4, "3")
line(d_pnk_i, d_pnk_v, "#D9A09D", 4.2, "3")
line(d_pur_i, d_pur_v, "#7030A0", 2.2, "3")
line(d_lb_i, d_lb_v, "#1BB5EE", 1.2, "3")
line(d_yel_i, d_yel_v, "#FFC000", 1.2, "3")
line(d_grn_i, d_grn_v, "#00B050", 1.2, "3")
line(d_brn_i, d_brn_v, "#B5524F", 1.3, "3")
line(d_dot1_i, d_dot1_v, "#000000", 2, "3", dash=DOT)
line(d_dot2_i, d_dot2_v, "#000000", 2, "3", dash=DOT)
line(d_red_i, d_red_v, "#FF0000", 5, "3")

# --------- layout
def dx(a, b): return [a/W, b/W]
def dy(top, bottom): return [1-bottom/H, 1-top/H]

lab_font = dict(family="Liberation Sans", size=13, color="#000000", weight="bold")
x_font = dict(family="Liberation Sans", size=12.5, color="#C87A2A", weight="bold")
grid = dict(gridcolor="#C4C4C4", griddash="3px,2px", gridwidth=1)
shapes = []
def rect(x0, y0, x1, y1, fill):
    shapes.append(dict(type="rect", xref="paper", yref="paper", x0=x0/W, x1=x1/W, y0=1-y0/H, y1=1-y1/H,
                       fillcolor=fill, line=dict(width=0), layer="above"))
rect(0, 0, 1783, 3, "#F3CDB0")
rect(0, 0, 224, 2, "#8C8C8C")
rect(475, 0, 637, 1.5, "#444444")
rect(848, 0, 979, 1.5, "#444444")
rect(0, 0, 2, 860, "#9A9A9A")
rect(0, 858, 1161, 860, "#F0C8A8")
rect(1160, 486, 1162, 860, "#F3CDB0")
rect(1162, 485, 1783, 486.5, "#5B84B5")
rect(1162, 856, 1783, 857.5, "#5B84B5")
rect(1162, 485, 1163.5, 857, "#5B84B5")
for rr, col, op in [(d_rect_red, "#D98A8C", 0.6), (d_rect_grn, "#7FBF96", 0.5)]:
    shapes.append(dict(type="rect", xref="x3", yref="y3", x0=rr[0], x1=rr[1], y0=rr[2], y1=rr[3],
                       fillcolor=col, opacity=op, line=dict(width=0), layer="above"))

fig.update_layout(
    width=W, height=H, margin=dict(l=0, r=0, t=0, b=0), paper_bgcolor="#FFFFFF", plot_bgcolor="#FFFFFF",
    showlegend=False, shapes=shapes, bargap=0,
    xaxis=dict(domain=dx(62, 1780), range=[-0.335, 250.2], tickmode="array", automargin=False,
               tickvals=[4*k for k in range(len(top_labels))], ticktext=top_labels, tickangle=90, tickfont=x_font,
               ticks="", ticklabelstandoff=8, showgrid=False, zeroline=False, showline=True, linecolor="#808080", linewidth=1.2),
    yaxis=dict(domain=dy(15, 440), range=[52150, 54395], tick0=52150, dtick=100, tickformat="d", tickfont=lab_font, automargin=False,
               ticks="outside", ticklen=5, tickcolor="#FF0000", ticklabelstandoff=8, showline=True, linecolor="#FF0000", linewidth=1.5,
               zeroline=False, showgrid=True, minor=dict(dtick=50, tick0=52150, showgrid=True, ticks="", **grid), **grid),
    xaxis2=dict(domain=dx(62, 1158), range=[-0.48, 130.5], tickmode="array", automargin=False,
                tickvals=[3*k for k in range(len(mid_labels))], ticktext=mid_labels, tickangle=90, tickfont=x_font,
                ticks="", ticklabelstandoff=8, showgrid=False, zeroline=False, showline=True, linecolor="#808080", linewidth=1.2, anchor="y2"),
    yaxis2=dict(domain=dy(492.7, 815), range=[52242, 54850], tick0=52250, dtick=100, tickformat="d", tickfont=lab_font, automargin=False,
                ticks="outside", ticklen=5, tickcolor="#FF0000", ticklabelstandoff=8, showline=True, linecolor="#FF0000", linewidth=1.5,
                zeroline=False, showgrid=True, anchor="x2", minor=dict(dtick=50, tick0=52250, showgrid=True, ticks="", **grid), **grid),
    xaxis3=dict(domain=dx(1163, 1724), range=[-0.5, 38.5], showticklabels=False, ticks="", showgrid=False, zeroline=False, showline=False, anchor="y3", automargin=False),
    yaxis3=dict(domain=dy(486, 857), range=[49700, 60329], side="right", anchor="x3", tick0=49900, dtick=2000, tickformat=",d", automargin=False,
                tickfont=dict(family="Liberation Sans", size=11.5, color="#222222"), ticks="outside", ticklen=6, tickcolor="rgba(0,0,0,0)",
                showline=True, linecolor="#8C8C8C", linewidth=1.2, gridcolor="#8C8C8C", gridwidth=1.2, zeroline=False),
    annotations=[dict(xref="paper", yref="paper", x=1411/W, y=1-503/H, xanchor="center", yanchor="middle", text=day_title, showarrow=False,
                      font=dict(family="Noto Sans CJK JP", size=17, color="#000000", weight="bold"), bgcolor="#FFFF00", borderpad=3)],
)

fig.write_html("out.html", config={"displayModeBar": False},
               post_script="document.body.style.margin='0';document.body.style.overflow='hidden';")
